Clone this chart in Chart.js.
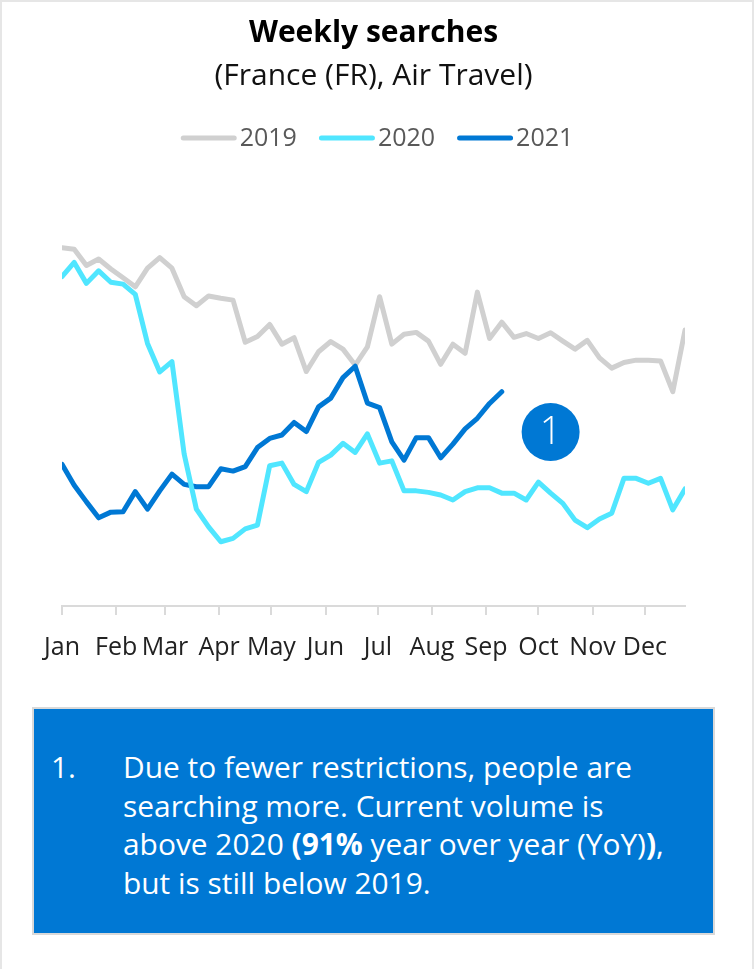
<!DOCTYPE html>
<html>
<head>
<meta charset="utf-8">
<script src="https://cdn.jsdelivr.net/npm/chart.js@4"></script>
<style>
  html, body { margin: 0; padding: 0; background: #fff; }
  body { width: 754px; height: 969px; position: relative; overflow: hidden; font-family: "Open Sans", sans-serif; }
  .frame { position: absolute; left: 0; top: 0; width: 754px; height: 969px; box-sizing: border-box;
           border: 2px solid #e6e6e6; border-bottom: none; }
  .chart-wrap { position: absolute; left: 0; top: 0; width: 754px; height: 688px; }
  .note { position: absolute; left: 32px; top: 707px; width: 683px; height: 228px; box-sizing: border-box;
          background: #0078d4; border: 2px solid #d9d9d9; color: #fff; font-size: 29.9px; line-height: 38.5px; }
  .note .num { position: absolute; left: 17px; top: 39px; }
  .note .body { position: absolute; left: 89px; top: 39px; white-space: nowrap; }
  .note b { font-weight: 700; }
</style>
</head>
<body>
<div class="frame"></div>
<div class="chart-wrap"><canvas id="searches"></canvas></div>
<div class="note">
  <div class="num">1.</div>
  <div class="body">Due to fewer restrictions, people are<br>searching more. Current volume is<br>above 2020 <b>(91%</b> year over year (YoY)<b>)</b>,<br>but is still below 2019.</div>
</div>
<script>
// Week index 0..51 of the year
const weeks = Array.from({ length: 52 }, (_, i) => i);

// Weekly search index per year
const searches2019 = [94.3, 93.9, 89.6, 91.3, 88.7, 86.4, 84.0, 88.9, 91.7, 88.9,
                      81.4, 79.0, 81.6, 81.0, 80.5, 69.4, 70.9, 74.1, 68.9, 70.6,
                      61.7, 66.9, 69.6, 67.6, 63.4, 68.2, 81.4, 68.9, 71.5, 72.0,
                      69.7, 63.6, 68.9, 66.5, 82.6, 70.4, 74.7, 70.7, 71.7, 70.4,
                      71.9, 69.7, 67.6, 69.9, 65.3, 62.6, 64.1, 64.7, 64.7, 64.5,
                      56.4, 72.6];
const searches2020 = [86.7, 90.4, 84.9, 88.2, 85.2, 84.7, 82.0, 69.1, 61.6, 64.3,
                      40.0, 25.5, 20.8, 16.9, 17.8, 20.3, 21.3, 36.9, 37.6, 32.0,
                      30.1, 37.8, 39.7, 42.8, 40.4, 45.3, 37.6, 38.2, 30.3, 30.3,
                      29.9, 29.2, 27.9, 30.1, 31.1, 31.1, 29.7, 29.7, 27.9, 32.6,
                      29.7, 27.0, 22.6, 20.6, 22.9, 24.4, 33.6, 33.6, 32.3, 33.6,
                      25.3, 30.8];
const searches2021 = [37.3, 31.8, 27.4, 23.2, 24.7, 24.8, 30.1, 25.5, 30.3, 34.7,
                      32.0, 31.4, 31.4, 36.1, 35.5, 36.7, 41.7, 44.1, 45.0, 48.3,
                      45.9, 52.4, 54.7, 60.1, 63.1, 53.4, 52.2, 43.2, 38.4, 44.3,
                      44.3, 39.0, 42.6, 46.6, 49.4, 53.3, 56.4];

const seriesNames = ['2019', '2020', '2021'];

// Month tick labels, placed at the day of year each month starts
const monthLabels = ['Jan', 'Feb', 'Mar', 'Apr', 'May', 'Jun', 'Jul', 'Aug', 'Sep', 'Oct', 'Nov', 'Dec'];
const monthStartDays = [0, 31, 59, 90, 120, 151, 181, 212, 243, 273, 304, 334];

// Callout marker "1" (week, index value)
const calloutLabel = '1';
const calloutAt = { week: 40.0, value: 45.8 };

const FONT = '"Open Sans", sans-serif';
const toPoints = vals => vals.map((v, i) => ({ x: weeks[i], y: v }));

// Legend drawn as short rounded line segments next to the year
const lineLegend = {
  id: 'lineLegend',
  afterDraw(chart) {
    const ctx = chart.ctx;
    const segW = 56, gap = 3, spacing = 22, y = 138;
    ctx.save();
    ctx.font = '25px ' + FONT;
    const items = chart.data.datasets.map(ds => ({
      label: ds.label, color: ds.borderColor, w: ctx.measureText(ds.label).width
    }));
    const total = items.reduce((s, it) => s + segW + gap + it.w, 0) + spacing * (items.length - 1);
    let x = (chart.width - total) / 2;
    items.forEach(it => {
      ctx.strokeStyle = it.color;
      ctx.lineWidth = 5;
      ctx.lineCap = 'round';
      ctx.beginPath();
      ctx.moveTo(x + 2.5, y);
      ctx.lineTo(x + segW - 2.5, y);
      ctx.stroke();
      ctx.fillStyle = '#595959';
      ctx.textBaseline = 'middle';
      ctx.textAlign = 'left';
      ctx.fillText(it.label, x + segW + gap, y + 1);
      x += segW + gap + it.w + spacing;
    });
    ctx.restore();
  }
};

// Numbered callout circle anchored in data space
const callout = {
  id: 'callout',
  afterDatasetsDraw(chart) {
    const { ctx, scales } = chart;
    const cx = scales.x.getPixelForValue(calloutAt.week);
    const cy = scales.y.getPixelForValue(calloutAt.value);
    ctx.save();
    ctx.fillStyle = '#0078d4';
    ctx.beginPath();
    ctx.arc(cx, cy, 29, 0, Math.PI * 2);
    ctx.fill();
    ctx.fillStyle = '#ffffff';
    ctx.font = '300 38px ' + FONT;
    ctx.textAlign = 'center';
    ctx.textBaseline = 'middle';
    ctx.fillText(calloutLabel, cx, cy + 1);
    ctx.restore();
  }
};

const lineStyle = {
  borderWidth: 5,
  pointRadius: 0,
  pointHoverRadius: 0,
  tension: 0,
  fill: false,
  borderJoinStyle: 'round',
  borderCapStyle: 'round'
};

new Chart(document.getElementById('searches'), {
  type: 'line',
  data: {
    datasets: [
      { label: seriesNames[0], data: toPoints(searches2019), borderColor: '#d0d0d0', order: 2, ...lineStyle },
      { label: seriesNames[1], data: toPoints(searches2020), borderColor: '#50e6ff', order: 0, ...lineStyle },
      { label: seriesNames[2], data: toPoints(searches2021), borderColor: '#0078d4', order: 1, ...lineStyle }
    ]
  },
  options: {
    responsive: true,
    maintainAspectRatio: false,
    animation: false,
    events: [],
    layout: { padding: { top: 0, left: 62, right: 69, bottom: 7 } },
    plugins: {
      legend: { display: false },
      tooltip: { enabled: false },
      title: {
        display: true,
        text: 'Weekly searches',
        color: '#000',
        font: { family: FONT, size: 30, weight: 'bold' },
        padding: { top: 15, bottom: 0 }
      },
      subtitle: {
        display: true,
        text: '(France (FR), Air Travel)',
        color: '#111',
        font: { family: FONT, size: 30 },
        padding: { top: 7, bottom: 132 }
      }
    },
    scales: {
      x: {
        type: 'linear',
        min: 0,
        max: weeks[weeks.length - 1],
        afterBuildTicks(scale) {
          scale.ticks = monthStartDays.map(d => ({ value: d / 7 }));
        },
        ticks: {
          autoSkip: false,
          maxRotation: 0,
          padding: 18,
          color: '#222',
          font: { family: FONT, size: 25 },
          callback: (v, i) => monthLabels[i]
        },
        grid: { drawOnChartArea: false, drawTicks: true, tickLength: 9, color: '#dadada', lineWidth: 2 },
        border: { display: true, color: '#dadada', width: 2 }
      },
      y: { display: false, min: 0, max: 100 }
    }
  },
  plugins: [lineLegend, callout]
});
</script>
</body>
</html>
